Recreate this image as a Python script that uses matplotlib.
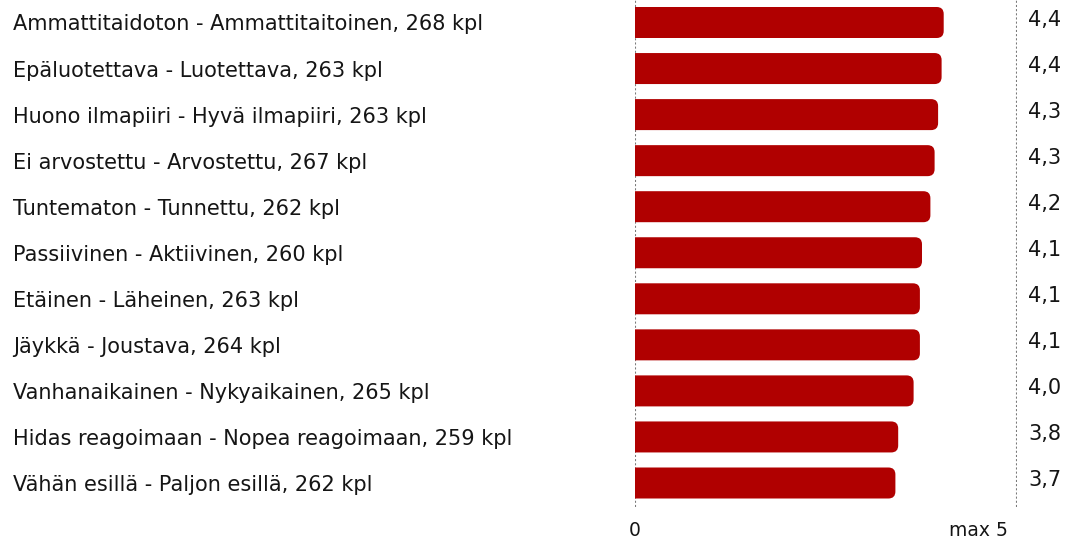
import matplotlib
matplotlib.use("Agg")
import matplotlib.pyplot as plt
from matplotlib.patches import FancyBboxPatch

labels = [
    "Ammattitaidoton - Ammattitaitoinen, 268 kpl",
    "Epäluotettava - Luotettava, 263 kpl",
    "Huono ilmapiiri - Hyvä ilmapiiri, 263 kpl",
    "Ei arvostettu - Arvostettu, 267 kpl",
    "Tuntematon - Tunnettu, 262 kpl",
    "Passiivinen - Aktiivinen, 260 kpl",
    "Etäinen - Läheinen, 263 kpl",
    "Jäykkä - Joustava, 264 kpl",
    "Vanhanaikainen - Nykyaikainen, 265 kpl",
    "Hidas reagoimaan - Nopea reagoimaan, 259 kpl",
    "Vähän esillä - Paljon esillä, 262 kpl",
]
values = [4.41, 4.38, 4.33, 4.28, 4.22, 4.10, 4.07, 4.07, 3.98, 3.76, 3.72]
value_labels = ["4,4", "4,4", "4,3", "4,3", "4,2", "4,1", "4,1", "4,1", "4,0", "3,8", "3,7"]
xmax_label = "max 5"

W, H = 1070, 542
fig = plt.figure(figsize=(W / 100, H / 100), dpi=100)
x0, x1 = 635, 1017
y_top, y_bot = 0, 507
ax = fig.add_axes([x0 / W, 1 - y_bot / H, (x1 - x0) / W, (y_bot - y_top) / H])
px_per_unit = 70.0
row = 46.05
first = 22.5
ax.set_xlim(0, (x1 - x0) / px_per_unit)
ax.set_ylim((y_bot - first) / row, -first / row)
ax.axis("off")

color = "#b00000"
bh = 31 / row
rx = 7 / px_per_unit
ry = 7 / row
ext = 0.5  # extend left beyond axes so left corners are clipped square
for i, v in enumerate(values):
    p = FancyBboxPatch((-ext, i - bh / 2), v + ext, bh,
                       boxstyle=f"round,pad=0,rounding_size={rx}",
                       mutation_aspect=ry / rx, fc=color, ec="none", lw=0,
                       clip_on=True)
    ax.add_patch(p)

# dotted vertical lines
ax.axvline(0, color="#7a7a7a", ls=(0, (1, 1)), lw=1.5, zorder=0)
ax.axvline((x1 - x0) / px_per_unit, color="#7a7a7a", ls=(0, (1, 1)), lw=1.5)

for i, (lab, vl) in enumerate(zip(labels, value_labels)):
    yc = 1 - (first + row * i + 2) / H
    fig.text(13 / W, yc, lab, ha="left", va="center", fontsize=15,
             color="#151515", family="DejaVu Sans")
    yv = 1 - (first + row * i - 3) / H
    fig.text(1028 / W, yv, vl, ha="left", va="center", fontsize=15,
             color="#151515", family="DejaVu Sans")

fig.text(x0 / W, 1 - 531 / H, "0", ha="center", va="center", fontsize=13.5, color="#151515")
fig.text(1008 / W, 1 - 531 / H, xmax_label, ha="right", va="center", fontsize=13.5, color="#151515")

fig.savefig("out.png", dpi=100, facecolor="white")
